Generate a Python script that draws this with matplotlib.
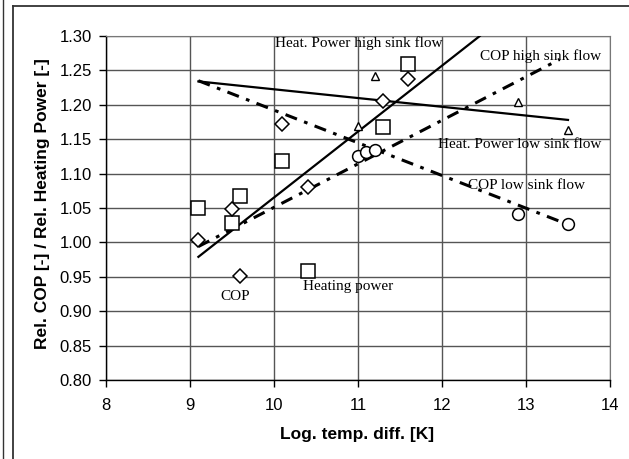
import matplotlib
matplotlib.use("Agg")
import matplotlib.pyplot as plt
from matplotlib.lines import Line2D

# Data
hp_x = [9.1, 9.5, 9.6, 10.1, 10.4, 11.3, 11.6]
hp_y = [1.050, 1.028, 1.068, 1.118, 0.959, 1.168, 1.260]
cop_x = [9.1, 9.5, 9.6, 10.1, 10.4, 11.3, 11.6]
cop_y = [1.003, 1.049, 0.951, 1.172, 1.080, 1.205, 1.238]
tri_x = [11.0, 11.2, 12.9, 13.5]
tri_y = [1.169, 1.242, 1.204, 1.164]
circ_x = [11.0, 11.1, 11.2, 12.9, 13.5]
circ_y = [1.126, 1.131, 1.135, 1.042, 1.027]

hp_high_x = [9.1, 12.45]
hp_high_y = [0.979, 1.300]
hp_low_x = [9.1, 13.5]
hp_low_y = [1.234, 1.178]
cop_high_x = [9.1, 13.4]
cop_high_y = [0.994, 1.266]
cop_low_x = [9.1, 13.5]
cop_low_y = [1.235, 1.026]

xticks = [8, 9, 10, 11, 12, 13, 14]
yticks = [0.80, 0.85, 0.90, 0.95, 1.00, 1.05, 1.10, 1.15, 1.20, 1.25, 1.30]

fig = plt.figure(figsize=(6.29, 4.59), dpi=100)
ax = fig.add_axes([106/629, 1-380/459, 504/629, 344/459])

ax.set_xlim(8, 14)
ax.set_ylim(0.80, 1.30)
ax.set_xticks(xticks)
ax.set_yticks(yticks)
ax.set_xticklabels([str(v) for v in xticks])
ax.set_yticklabels([f"{v:.2f}" for v in yticks])
ax.grid(True, color='#555555', lw=1)
ax.set_axisbelow(True)
for s in ['top', 'right']:
    ax.spines[s].set_color('#777777')
for s in ['left', 'bottom']:
    ax.spines[s].set_color('black')
    ax.spines[s].set_linewidth(1)
ax.tick_params(direction='out', length=5, width=1, labelsize=12)
ax.tick_params(axis='x', pad=8)
ax.tick_params(axis='y', pad=5)
for lab in ax.get_xticklabels() + ax.get_yticklabels():
    lab.set_family('Liberation Sans')

dashdot = (0, (4, 2.5, 1.2, 2.5))
ax.plot(hp_high_x, hp_high_y, color='black', lw=1.6, zorder=3)
ax.plot(hp_low_x, hp_low_y, color='black', lw=1.6, zorder=3)
ax.plot(cop_high_x, cop_high_y, color='black', lw=2.2, linestyle=dashdot, zorder=3)
ax.plot(cop_low_x, cop_low_y, color='black', lw=2.2, linestyle=dashdot, zorder=3)

ax.plot(hp_x, hp_y, linestyle='none', marker='s', ms=9.5, mfc='white', mec='black', mew=1.1, zorder=4)
ax.plot(cop_x, cop_y, linestyle='none', marker='D', ms=7.5, mfc='white', mec='black', mew=1.1, zorder=4)
ax.plot(tri_x, tri_y, linestyle='none', marker='^', ms=5.5, mfc='white', mec='black', mew=1.0, zorder=4)
ax.plot(circ_x, circ_y, linestyle='none', marker='o', ms=8.5, mfc='white', mec='black', mew=1.1, zorder=4)

tfont = dict(family='Liberation Serif', fontsize=11, color='black', zorder=5)
ax.text(10.01, 1.2898, "Heat. Power high sink flow", ha='left', va='center', **tfont)
ax.text(12.45, 1.271, "COP high sink flow", ha='left', va='center', **tfont)
ax.text(11.956, 1.1416, "Heat. Power low sink flow", ha='left', va='center', **tfont)
ax.text(12.31, 1.0834, "COP low sink flow", ha='left', va='center', **tfont)
ax.text(9.536, 0.921, "COP", ha='center', va='center', **tfont)
ax.text(10.35, 0.9366, "Heating power", ha='left', va='center', **tfont)

ax.set_xlabel("Log. temp. diff. [K]", fontsize=12.5, fontweight='bold', family='Liberation Sans', va='center')
ax.set_ylabel("Rel. COP [-] / Rel. Heating Power [-]", fontsize=12.5, fontweight='bold', family='Liberation Sans', va='center')
ax.xaxis.set_label_coords((357.5-106)/504, (380-435)/344)
ax.yaxis.set_label_coords((43-106)/504, (380-203.5)/344)

# outer frame lines
W, H = 629, 459
fig.add_artist(Line2D([2.5/W, 2.5/W], [0, 1], color='#333333', lw=1, transform=fig.transFigure))
fig.add_artist(Line2D([12.5/W, 12.5/W], [0, 1-6/H], color='#333333', lw=1.3, transform=fig.transFigure))
fig.add_artist(Line2D([12.5/W, 1], [1-6/H, 1-6/H], color='#333333', lw=1.3, transform=fig.transFigure))

fig.savefig("out.png", dpi=100)
